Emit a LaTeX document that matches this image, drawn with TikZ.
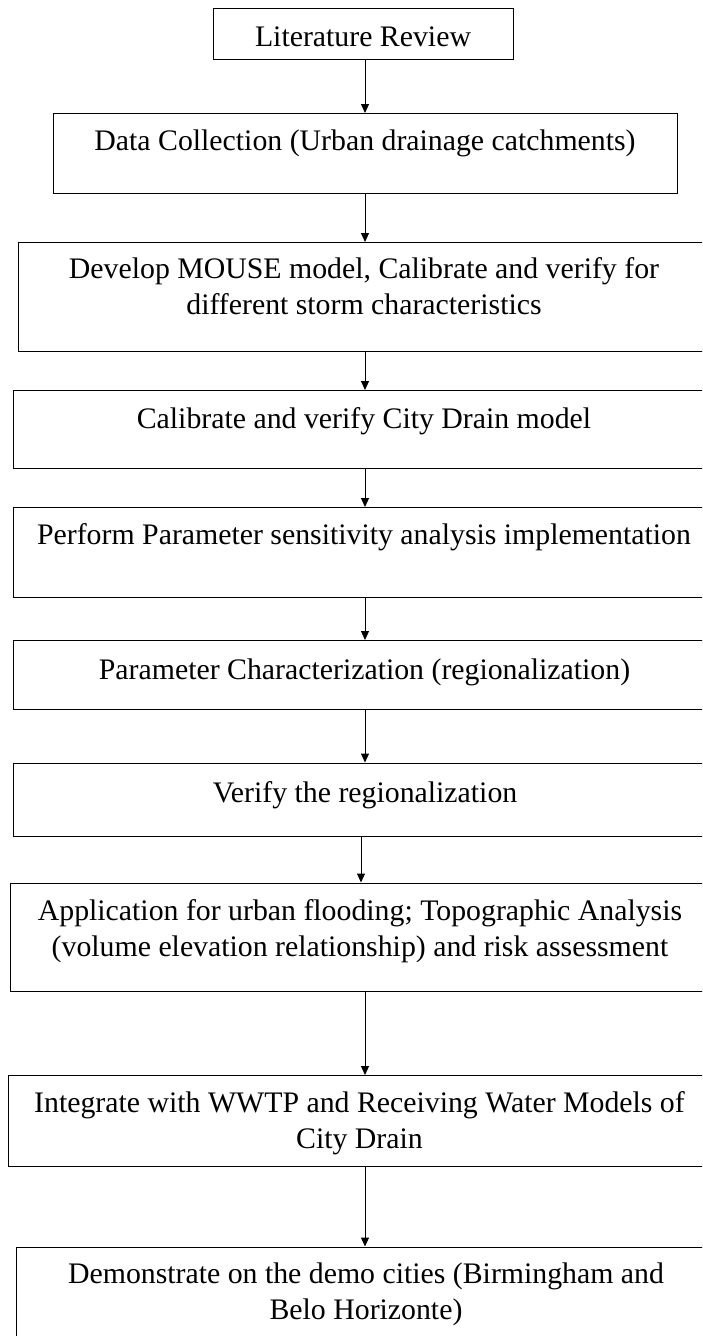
\documentclass[tikz,border=0pt]{standalone}
\usepackage{fontspec}
\setmainfont{Liberation Serif}
\usetikzlibrary{arrows.meta}
\begin{document}
\begin{tikzpicture}[x=1pt,y=-1pt,
  box/.style={draw, line width=1.4pt, rectangle, inner sep=0pt, anchor=north west},
  lbl/.style={font=\fontsize{29.8}{35.5}\selectfont, inner sep=0pt, align=center, anchor=base},
  arr/.style={line width=1pt, -{Triangle[length=9pt,width=8pt]}}]
\useasboundingbox (0,0) rectangle (702,1336);
\clip (0,0) rectangle (702,1336);
\coordinate (axis) at (365,0);
\coordinate (axisb) at (361,0);
% boxes
\node[box, minimum width=300pt, minimum height=51pt] (lit) at (213,8) {};
\node[box, minimum width=624pt, minimum height=80pt] (data) at (53,113) {};
\node[box, minimum width=700pt, minimum height=109pt] (dev) at (18,242) {};
\node[box, minimum width=710pt, minimum height=78pt] (cal) at (13,390) {};
\node[box, minimum width=710pt, minimum height=90pt] (perf) at (13,507) {};
\node[box, minimum width=710pt, minimum height=69pt] (pchar) at (13,640) {};
\node[box, minimum width=710pt, minimum height=73pt] (ver) at (13,762.5) {};
\node[box, minimum width=710pt, minimum height=108.5pt] (app) at (10,882.5) {};
\node[box, minimum width=710pt, minimum height=91pt] (integ) at (8,1075) {};
\node[box, minimum width=710pt, minimum height=120pt] (demo) at (16,1246.5) {};
% texts (base anchor = baseline of the last line)
\node[lbl] (litT) at (363,46) {Literature Review};
\node[lbl] (dataT) at (365,150) {Data Collection (Urban drainage catchments)};
\node[lbl] (devT) at (364,314) {Develop MOUSE model, Calibrate and verify for\\different storm characteristics};
\node[lbl] (calT) at (364,428) {Calibrate and verify City Drain model};
\node[lbl] (perfT) at (364,544) {Perform Parameter sensitivity analysis implementation};
\node[lbl] (pcharT) at (364.5,679) {Parameter Characterization (regionalization)};
\node[lbl] (verT) at (365,802) {Verify the regionalization};
\node[lbl] (appT) at (360,956) {Application for urban flooding; Topographic Analysis\\(volume elevation relationship) and risk assessment};
\node[lbl] (integT) at (359.5,1148) {Integrate with WWTP and Receiving Water Models of\\City Drain};
\node[lbl] (demoT) at (366,1319) {Demonstrate on the demo cities (Birmingham and\\Belo Horizonte)};
% arrows
\draw[arr] (lit.south -| axis) -- (data.north -| axis);
\draw[arr] (data.south -| axis) -- (dev.north -| axis);
\draw[arr] (dev.south -| axis) -- (cal.north -| axis);
\draw[arr] (cal.south -| axis) -- (perf.north -| axis);
\draw[arr] (perf.south -| axis) -- (pchar.north -| axis);
\draw[arr] (pchar.south -| axis) -- (ver.north -| axis);
\draw[arr] (ver.south -| axisb) -- (app.north -| axisb);
\draw[arr] (app.south -| axis) -- (integ.north -| axis);
\draw[arr] (integ.south -| axis) -- (demo.north -| axis);
\end{tikzpicture}
\end{document}
